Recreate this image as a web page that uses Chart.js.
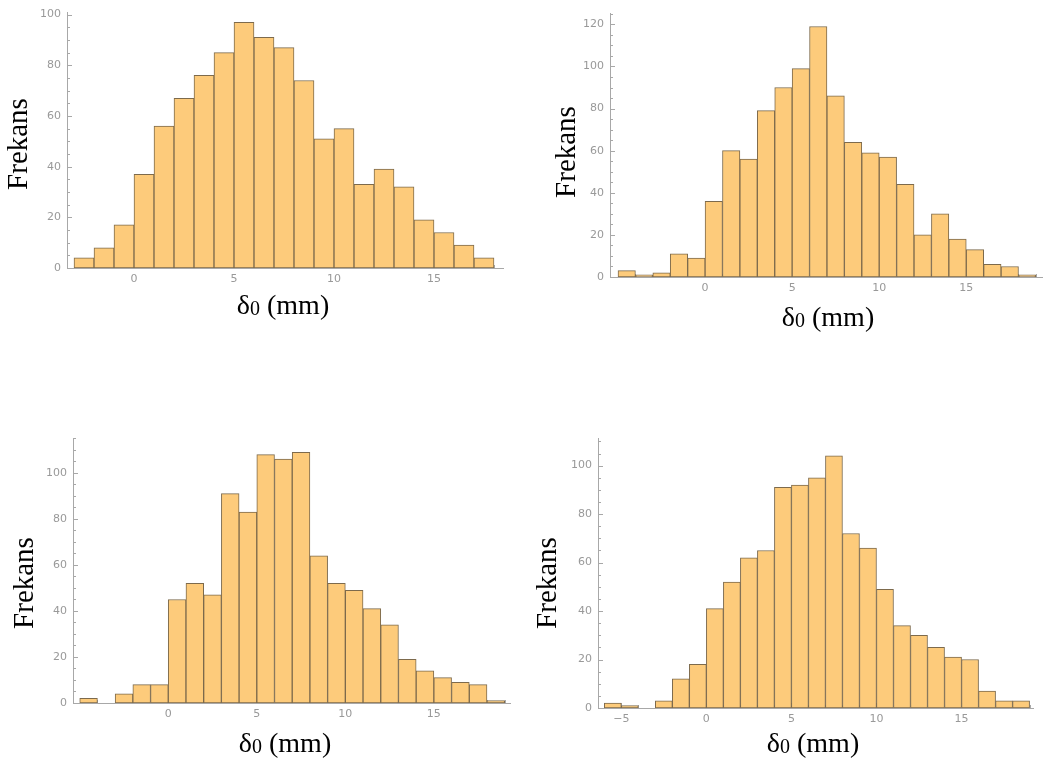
<!DOCTYPE html>
<html>
<head>
<meta charset="utf-8">
<script src="https://cdn.jsdelivr.net/npm/chart.js@4.4.0/dist/chart.umd.min.js"></script>
<style>
  html, body { margin: 0; padding: 0; background: #ffffff; }
  #wrap { position: relative; width: 1043px; height: 770px; }
  #wrap canvas { position: absolute; }
</style>
</head>
<body>
<div id="wrap">
  <canvas id="c1" width="521" height="385" style="left:0;top:0"></canvas>
  <canvas id="c2" width="522" height="385" style="left:521px;top:0"></canvas>
  <canvas id="c3" width="521" height="385" style="left:0;top:385px"></canvas>
  <canvas id="c4" width="522" height="385" style="left:521px;top:385px"></canvas>
</div>
<script>
// left edges of the 1 mm bins, and counts per bin
const edges1 = [-3, -2, -1, 0, 1, 2, 3, 4, 5, 6, 7, 8, 9, 10, 11, 12, 13, 14, 15, 16, 17];
const counts1 = [4, 8, 17, 37, 56, 67, 76, 85, 97, 91, 87, 74, 51, 55, 33, 39, 32, 19, 14, 9, 4];

const edges2 = [-5, -4, -3, -2, -1, 0, 1, 2, 3, 4, 5, 6, 7, 8, 9, 10, 11, 12, 13, 14, 15, 16, 17, 18];
const counts2 = [3, 1, 2, 11, 9, 36, 60, 56, 79, 90, 99, 119, 86, 64, 59, 57, 44, 20, 30, 18, 13, 6, 5, 1];

const edges3 = [-5, -4, -3, -2, -1, 0, 1, 2, 3, 4, 5, 6, 7, 8, 9, 10, 11, 12, 13, 14, 15, 16, 17, 18];
const counts3 = [2, 0, 4, 8, 8, 45, 52, 47, 91, 83, 108, 106, 109, 64, 52, 49, 41, 34, 19, 14, 11, 9, 8, 1];

const edges4 = [-6, -5, -4, -3, -2, -1, 0, 1, 2, 3, 4, 5, 6, 7, 8, 9, 10, 11, 12, 13, 14, 15, 16, 17, 18];
const counts4 = [2, 1, 0, 3, 12, 18, 41, 52, 62, 65, 91, 92, 95, 104, 72, 66, 49, 34, 30, 25, 21, 20, 7, 3, 3];

const yTitle = 'Frekans';
const xTitle = ['δ', '0', ' (mm)'];

const BAR_FILL = '#fdcb7b';
const BAR_EDGE = '#7d6a4c';
const AXIS_GRAY = '#a8a8a8';
const LABEL_GRAY = '#999999';
const SERIF = '"Liberation Serif", "Times New Roman", serif';

// inward Mathematica-style ticks + axis titles
const axisDecor = {
    id: 'axisDecor',
    beforeDatasetsDraw(chart) {
        const {ctx, chartArea: a, scales: {x, y}} = chart;
        ctx.save();
        ctx.strokeStyle = AXIS_GRAY;
        ctx.lineWidth = 1;
        ctx.beginPath();
        for (let v = 0; v <= y.max; v += 5) {
            const py = Math.round(y.getPixelForValue(v)) + 0.5;
            const len = v % 20 === 0 ? 5 : 3;
            ctx.moveTo(a.left, py);
            ctx.lineTo(a.left + len, py);
        }
        for (let v = Math.ceil(x.min); v <= x.max; v++) {
            const px = Math.round(x.getPixelForValue(v)) + 0.5;
            const len = v % 5 === 0 ? 5 : 3;
            ctx.moveTo(px, a.bottom);
            ctx.lineTo(px, a.bottom - len);
        }
        ctx.stroke();
        ctx.restore();
    },
    afterDraw(chart, args, opts) {
        const ctx = chart.ctx;
        ctx.save();
        ctx.fillStyle = '#000';
        ctx.textBaseline = 'middle';
        ctx.textAlign = 'center';

        // y title, rotated
        ctx.font = '29px ' + SERIF;
        ctx.save();
        ctx.translate(opts.yPos[0], opts.yPos[1]);
        ctx.rotate(-Math.PI / 2);
        ctx.fillText(yTitle, 0, 0);
        ctx.restore();

        // x title with subscript zero
        const big = '28px ' + SERIF;
        const small = '20px ' + SERIF;
        ctx.font = big;
        const w0 = ctx.measureText(xTitle[0]).width;
        const w2 = ctx.measureText(xTitle[2]).width;
        ctx.font = small;
        const w1 = ctx.measureText(xTitle[1]).width;
        let cx = opts.xPos[0] - (w0 + w1 + w2) / 2;
        const cy = opts.xPos[1];
        ctx.textAlign = 'left';
        ctx.font = big;
        ctx.fillText(xTitle[0], cx, cy);
        cx += w0;
        ctx.font = small;
        ctx.fillText(xTitle[1], cx, cy + 3);
        cx += w1;
        ctx.font = big;
        ctx.fillText(xTitle[2], cx, cy);
        ctx.restore();
    }
};

function makeHistogram(canvasId, edges, counts, p) {
    const ctx = document.getElementById(canvasId);
    return new Chart(ctx, {
        type: 'bar',
        data: {
            datasets: [{
                data: edges.map((e, i) => ({x: e + 0.5, y: counts[i]})),
                backgroundColor: BAR_FILL,
                borderColor: BAR_EDGE,
                borderWidth: 1,
                borderSkipped: false,
                barPercentage: 1,
                categoryPercentage: 1
            }]
        },
        options: {
            responsive: false,
            animation: false,
            layout: {
                padding: {left: p.pad[0], top: p.pad[1], right: p.pad[2], bottom: p.pad[3]}
            },
            plugins: {
                legend: {display: false},
                tooltip: {enabled: false},
                axisDecor: {yPos: p.yPos, xPos: p.xPos}
            },
            scales: {
                x: {
                    type: 'linear',
                    offset: false,
                    min: p.xRange[0],
                    max: p.xRange[1],
                    grid: {display: false, offset: false, drawTicks: false},
                    border: {display: true, color: AXIS_GRAY, width: 1},
                    ticks: {
                        stepSize: 5,
                        includeBounds: false,
                        maxRotation: 0,
                        padding: 5,
                        color: LABEL_GRAY,
                        font: {size: 11, family: "'DejaVu Sans', sans-serif"},
                        // Mathematica leaves out a label that sits too close to the y axis
                        callback: v => (v < p.firstLabel ? '' : (v < 0 ? '\u2212' + Math.abs(v) : String(v)))
                    },
                    afterFit: s => { s.height = 32; }
                },
                y: {
                    min: 0,
                    max: p.yMax,
                    grid: {display: false, drawTicks: false},
                    border: {display: true, color: AXIS_GRAY, width: 1},
                    ticks: {
                        stepSize: 20,
                        includeBounds: false,
                        padding: 6,
                        color: LABEL_GRAY,
                        font: {size: 11, family: "'DejaVu Sans', sans-serif"}
                    },
                    afterFit: s => { s.width = 40; }
                }
            }
        },
        plugins: [axisDecor]
    });
}

makeHistogram('c1', edges1, counts1, {
    pad: [27, 8, 18, 85], xRange: [-3.35, 18.45], yMax: 100.8, firstLabel: 0,
    yPos: [19, 144], xPos: [283, 307]
});
makeHistogram('c2', edges2, counts2, {
    pad: [49, 13, 1, 76], xRange: [-5.46, 19.35], yMax: 125.4, firstLabel: 0,
    yPos: [46, 152], xPos: [307, 319]
});
makeHistogram('c3', edges3, counts3, {
    pad: [33, 53, 11, 35], xRange: [-5.38, 19.3], yMax: 115.2, firstLabel: 0,
    yPos: [25, 198], xPos: [285, 360]
});
makeHistogram('c4', edges4, counts4, {
    pad: [37, 53, 10, 30], xRange: [-6.37, 19.2], yMax: 111.4, firstLabel: -5,
    yPos: [27, 198], xPos: [292, 360]
});
</script>
</body>
</html>
